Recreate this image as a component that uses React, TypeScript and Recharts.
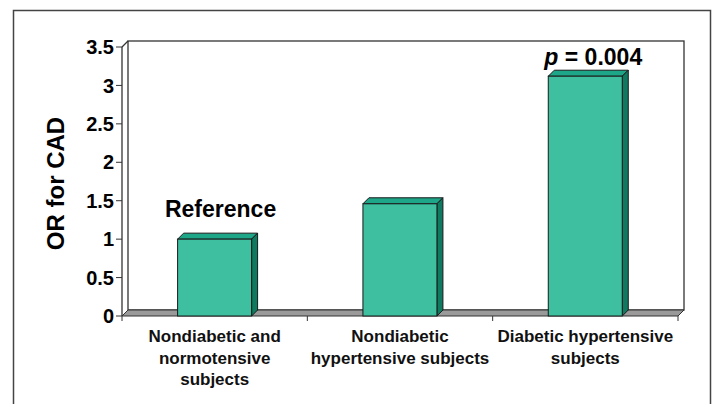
import React from 'react';
import * as R from 'recharts';

const { BarChart, Bar, XAxis, YAxis, LabelList } = R as any;

// Study groups along the x axis
const categories = [
  'Nondiabetic and normotensive subjects',
  'Nondiabetic hypertensive subjects',
  'Diabetic hypertensive subjects',
];
// How each group name wraps under the axis
const categoryLines = [
  ['Nondiabetic and', 'normotensive', 'subjects'],
  ['Nondiabetic', 'hypertensive subjects'],
  ['Diabetic hypertensive', 'subjects'],
];
// Odds ratio for coronary artery disease
const oddsRatios = [1.0, 1.46, 3.12];
// Text written above each bar
const barNotes = ['Reference', '', 'p = 0.004'];
const yTicks = [0, 0.5, 1, 1.5, 2, 2.5, 3, 3.5];

const data = categories.map((name, i) => ({ name, or: oddsRatios[i], note: barNotes[i], idx: i }));

const W = 714;
const H = 404;
const DX = 6; // depth of the pseudo-3D extrusion
const DY = 6;
const FONT = 'Arial, "Liberation Sans", Helvetica, sans-serif';

const FRONT = '#3DBFA0';
const TOP = '#1DA688';
const SIDE = '#0F7A5F';
const EDGE = '#1a1a1a';

function Bar3D(props: any) {
  const { x, y, width, height } = props;
  if (width == null || height == null) return null;
  return (
    <g>
      <polygon
        points={`${x},${y} ${x + DX},${y - DY} ${x + width + DX},${y - DY} ${x + width},${y}`}
        fill={TOP}
        stroke={EDGE}
        strokeWidth={1}
        strokeLinejoin="round"
      />
      <polygon
        points={`${x + width},${y} ${x + width + DX},${y - DY} ${x + width + DX},${y + height - DY} ${x + width},${y + height}`}
        fill={SIDE}
        stroke={EDGE}
        strokeWidth={1}
        strokeLinejoin="round"
      />
      <rect x={x} y={y} width={width} height={height} fill={FRONT} stroke={EDGE} strokeWidth={1} />
    </g>
  );
}

function usePlot() {
  const anyR = R as any;
  if (anyR.usePlotArea) {
    const pa = anyR.usePlotArea();
    if (pa) return pa;
  }
  return { x: 122, y: 47, width: 556, height: 269 };
}

// Back wall, floor, category boundary ticks and the axis title
function Room() {
  const pa = usePlot();
  const x0 = pa.x;
  const x1 = pa.x + pa.width;
  const yTop = pa.y;
  const yBot = pa.y + pa.height;
  const n = categories.length;
  const step = pa.width / n;
  const ticks = Array.from({ length: n + 1 }, (_, i) => x0 + i * step);
  return (
    <g>
      {/* back wall */}
      <rect
        x={x0 + DX}
        y={yTop - DY}
        width={pa.width}
        height={pa.height}
        fill="#ffffff"
        stroke="#333"
        strokeWidth={1.3}
      />
      {/* left wall top edge */}
      <line x1={x0} y1={yTop} x2={x0 + DX} y2={yTop - DY} stroke="#333" strokeWidth={1.3} />
      {/* floor */}
      <polygon
        points={`${x0},${yBot} ${x0 + DX},${yBot - DY} ${x1 + DX},${yBot - DY} ${x1},${yBot}`}
        fill="#9a9a9a"
        stroke="#333"
        strokeWidth={1}
        strokeLinejoin="round"
      />
      {ticks.map((tx, i) => (
        <line key={i} x1={tx} y1={yBot} x2={tx} y2={yBot + 5} stroke="#333" strokeWidth={1} />
      ))}
      <text
        x={55}
        y={(yTop + yBot) / 2 + 2}
        transform={`rotate(-90 55 ${(yTop + yBot) / 2 + 2})`}
        textAnchor="middle"
        dominantBaseline="central"
        fontFamily={FONT}
        fontWeight="bold"
        fontSize={24}
        fill="#000"
      >
        OR for CAD
      </text>
    </g>
  );
}

function CategoryTick(props: any) {
  const { x, payload, index } = props;
  const i = typeof index === 'number' ? index : categories.indexOf(payload.value);
  const lines = categoryLines[i] || [String(payload.value)];
  return (
    <g>
      {lines.map((ln, k) => (
        <text
          key={k}
          x={x}
          y={342 + k * 21.5}
          textAnchor="middle"
          fontFamily={FONT}
          fontWeight="bold"
          fontSize={17}
          fill="#111"
        >
          {ln}
        </text>
      ))}
    </g>
  );
}

function NoteLabel(props: any) {
  const { x, y, width, value } = props;
  if (!value) return null;
  const cx = x + width / 2 + DX / 2;
  if (String(value).startsWith('p ')) {
    return (
      <text x={cx + 5} y={y - 11} textAnchor="middle" fontFamily={FONT} fontWeight="bold" fontSize={23} fill="#000">
        <tspan fontStyle="italic">p</tspan>
        <tspan>{String(value).slice(1)}</tspan>
      </text>
    );
  }
  return (
    <text x={cx + 3} y={y - 22} textAnchor="middle" fontFamily={FONT} fontWeight="bold" fontSize={23} fill="#000">
      {value}
    </text>
  );
}

export default function App() {
  return (
    <div style={{ position: 'absolute', left: 0, top: 0, width: W, height: H, background: '#fff' }}>
      <svg width={W} height={H} style={{ position: 'absolute', left: 0, top: 0 }}>
        <rect x={13.5} y={10.5} width={697} height={410} fill="#fff" stroke="#444" strokeWidth={1.5} />
      </svg>
      <div style={{ position: 'absolute', left: 0, top: 0 }}>
        <BarChart
          width={W}
          height={H}
          data={data}
          margin={{ top: 47, right: 36, left: 0, bottom: 0 }}
          barCategoryGap="30%"
        >
          <Room />
          <XAxis
            dataKey="name"
            height={88}
            axisLine={false}
            tickLine={false}
            interval={0}
            tick={<CategoryTick />}
          />
          <YAxis
            width={122}
            domain={[0, 3.5]}
            ticks={yTicks}
            tickSize={6}
            axisLine={{ stroke: '#333', strokeWidth: 1.3 }}
            tickLine={{ stroke: '#333' }}
            tick={{ fontFamily: FONT, fontWeight: 'bold', fontSize: 20, fill: '#000' }}
            interval={0}
          />
          <Bar dataKey="or" shape={<Bar3D />} isAnimationActive={false}>
            <LabelList dataKey="note" content={<NoteLabel />} />
          </Bar>
        </BarChart>
      </div>
    </div>
  );
}
